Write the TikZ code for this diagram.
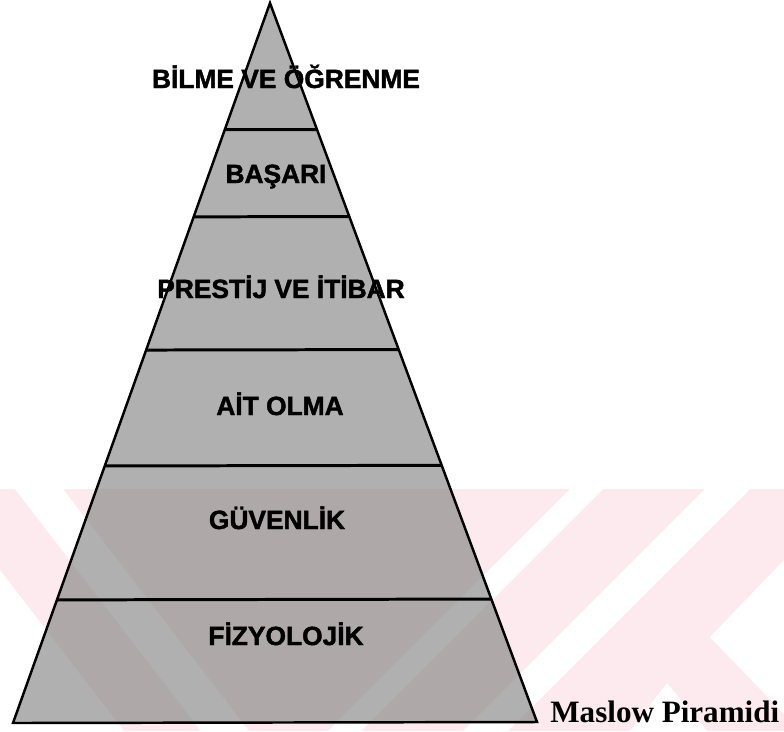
\documentclass[tikz,border=0pt]{standalone}
\usepackage{fontspec}
\setmainfont{Liberation Serif}
\newfontfamily\tierfont[FakeBold=1.6]{Liberation Sans Bold}
\usetikzlibrary{calc}
\definecolor{wmpink}{RGB}{252,234,238}
\begin{document}
\begin{tikzpicture}[x=0.02cm, y=-0.02cm,
    tierlabel/.style={anchor=base, inner sep=0pt, font=\tierfont\fontsize{15}{18}\selectfont},
    tierline/.style={black, line width=1.7pt},
    pyredge/.style={black, line width=1.4pt, line join=miter}]
                \useasboundingbox (0,0) rectangle (784,731);
                % watermark in the background
                \begin{scope}
                    \clip (0,489) rectangle (784,731);
                    \fill[wmpink] (0,489) rectangle (784,731);
                    \fill[white] (0,570) -- (124,731) -- (0,731) -- cycle;
                    \fill[white] (15,489) -- (63,489) -- (249,731) -- (201,731) -- cycle;
                    \fill[white] (570,489) -- (603,489) -- (361,731) -- (328,731) -- cycle;
                    \fill[white] (705,489) -- (750,489) -- (508,731) -- (463,731) -- cycle;
                    \fill[white] (784,560) -- (710,637) -- (784,714) -- cycle;
                    \fill[white] (630,731) -- (667,683) -- (707,731) -- cycle;
                \end{scope}
                \coordinate (apex) at (270,3);
                \coordinate (bl) at (13,723);
                \coordinate (br) at (537,722);
                \fill[black!50, fill opacity=0.62] (apex) -- (bl) -- (br) -- cycle;
                \draw[tierline] ($(apex)!0.176!(bl)$) -- ($(apex)!0.176!(br)$);
                \draw[tierline] ($(apex)!0.297!(bl)$) -- ($(apex)!0.297!(br)$);
                \draw[tierline] ($(apex)!0.482!(bl)$) -- ($(apex)!0.482!(br)$);
                \draw[tierline] ($(apex)!0.643!(bl)$) -- ($(apex)!0.643!(br)$);
                \draw[tierline] ($(apex)!0.829!(bl)$) -- ($(apex)!0.829!(br)$);
                \draw[pyredge] (apex) -- (bl) -- (br) -- cycle;
                \node[tierlabel] (bilme) at (286,88) {BİLME VE ÖĞRENME};
                \node[tierlabel] (basari) at (276,183) {BAŞARI};
                \node[tierlabel] (prestij) at (281,298) {PRESTİJ VE İTİBAR};
                \node[tierlabel] (ait) at (280,415) {AİT OLMA};
                \node[tierlabel] (guvenlik) at (277,529) {GÜVENLİK};
                \node[tierlabel] (fizyolojik) at (286,645) {FİZYOLOJİK};
                \node[anchor=base west, inner sep=0pt, font=\bfseries\fontsize{17.7}{20}\selectfont] (caption) at (550,722) {Maslow Piramidi};
            \end{tikzpicture}
\end{document}
